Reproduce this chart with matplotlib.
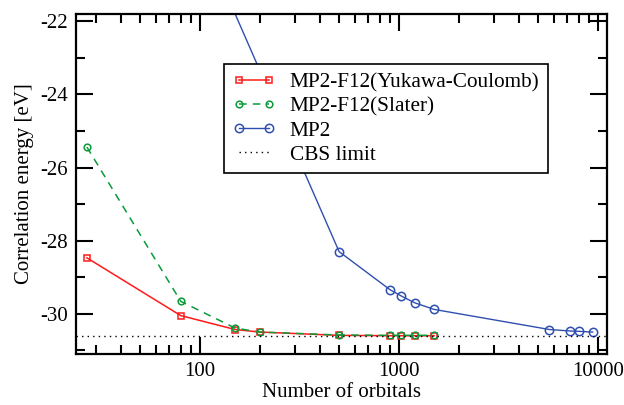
import numpy as np
import matplotlib
matplotlib.use("Agg")
import matplotlib.pyplot as plt
from matplotlib.ticker import FixedLocator, NullFormatter, FuncFormatter

plt.rcParams['font.family'] = ['Liberation Serif', 'DejaVu Serif']
plt.rcParams['axes.unicode_minus'] = False

# data
yukawa_n = [27, 80, 150, 200, 500, 900, 1024, 1200, 1500]
yukawa_e = [-28.47, -30.05, -30.43, -30.50, -30.59, -30.60, -30.60, -30.60, -30.60]

slater_n = [27, 80, 150, 200, 500, 900, 1024, 1200, 1500]
slater_e = [-25.44, -29.66, -30.39, -30.50, -30.58, -30.59, -30.59, -30.59, -30.59]

mp2_n = [80, 500, 900, 1024, 1200, 1500, 5700, 7200, 8000, 9400]
mp2_e = [-18.4, -28.30, -29.34, -29.51, -29.70, -29.88, -30.43, -30.47, -30.48, -30.50]

cbs_limit = -30.61

fig = plt.figure(figsize=(6.24, 4.05), dpi=100)
ax = fig.add_axes([76/624, 1 - 354/405, (607-76)/624, (354-14)/405])

ax.plot(yukawa_n, yukawa_e, '-', color='#ff1a1a', lw=1.1, marker='s', ms=4.5,
        mfc='none', mec='#ff1a1a', mew=1.1, label='MP2-F12(Yukawa-Coulomb)')
ax.plot(slater_n, slater_e, '--', color='#0a9a3a', lw=1.1, marker='o', ms=4.8,
        mfc='none', mec='#0a9a3a', mew=1.1, label='MP2-F12(Slater)', dashes=(5, 4))
ax.plot(mp2_n, mp2_e, '-', color='#2f4fb0', lw=1.0, marker='o', ms=6,
        mfc='none', mec='#2f4fb0', mew=1.1, label='MP2')
ax.axhline(cbs_limit, color='black', lw=1.0, ls=(0, (1, 3)), label='CBS limit')

ax.set_xscale('log')
ax.set_xlim(23.8, 11100)
ax.set_ylim(-31.1, -21.8)

ax.xaxis.set_major_locator(FixedLocator([100, 1000, 10000]))
ax.xaxis.set_major_formatter(FuncFormatter(lambda v, p: '%d' % v))
minors = [m * d for d in (10, 100, 1000) for m in range(2, 10)]
ax.xaxis.set_minor_locator(FixedLocator(minors))
ax.xaxis.set_minor_formatter(NullFormatter())
ax.yaxis.set_major_locator(FixedLocator([-30, -28, -26, -24, -22]))
ax.yaxis.set_minor_locator(FixedLocator([-31, -29, -27, -25, -23]))

ax.tick_params(which='both', direction='in', top=True, right=True, labelsize=15, width=1.5)
ax.tick_params(which='major', length=12, pad=6)
ax.tick_params(which='minor', length=6.5)
for s in ax.spines.values():
    s.set_linewidth(1.6)

ax.set_xlabel('Number of orbitals', fontsize=15, labelpad=1)
ax.set_ylabel('Correlation energy [eV]', fontsize=15, labelpad=4)

leg = ax.legend(loc='upper left', bbox_to_anchor=((224-76)/531, 1 - (64-14)/340),
                fontsize=15.3, numpoints=2, handlelength=2.0, handletextpad=0.7,
                borderpad=0.4, labelspacing=0.2, fancybox=False, framealpha=1,
                edgecolor='black', borderaxespad=0)
leg.get_frame().set_linewidth(1.2)

fig.savefig('out.png', dpi=100)
